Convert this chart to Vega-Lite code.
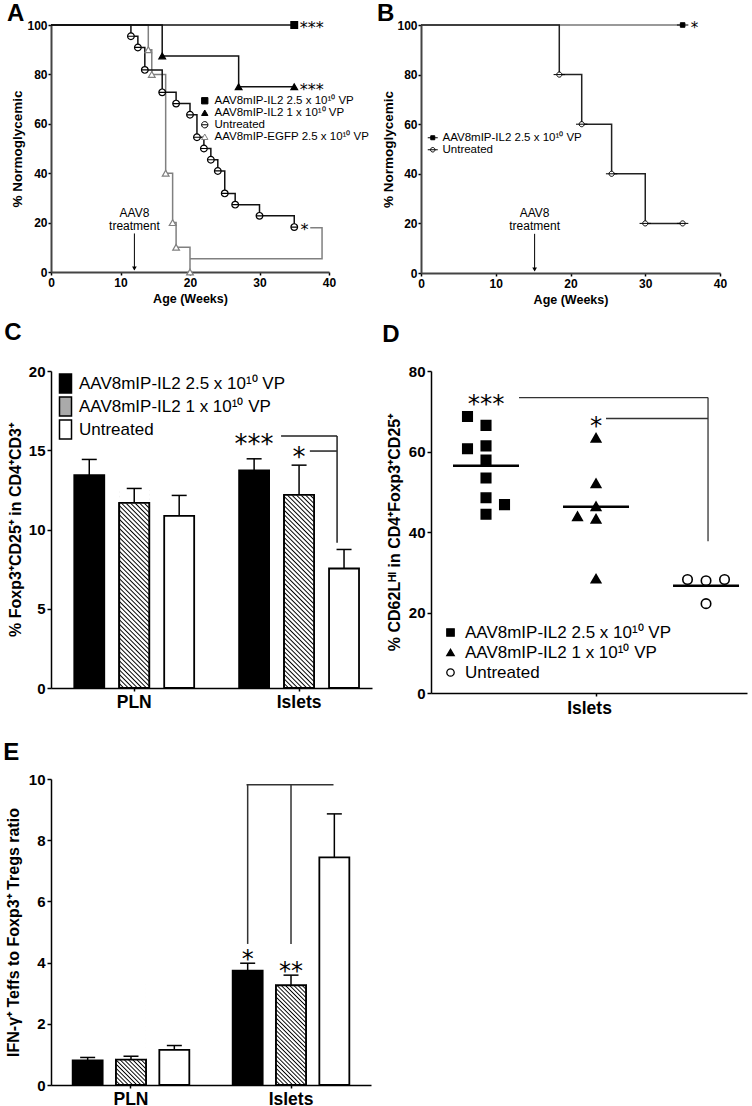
{
  "$schema": "https://vega.github.io/schema/vega-lite/v6.json",
  "background": "white",
  "padding": {"left": 3, "top": 2, "right": 2, "bottom": 2},
  "config": {
    "font": "Liberation Sans",
    "view": {"stroke": null},
    "axis": {"grid": false, "domainColor": "#000", "domainWidth": 1.5, "tickColor": "#000", "tickWidth": 1.5, "tickSize": 3, "labelColor": "#000", "labelFontWeight": "bold", "labelFont": "Liberation Sans", "titleColor": "#000", "titleFont": "Liberation Sans", "titleFontWeight": "bold", "labelPadding": 2, "labelFlush": false, "labelOverlap": false, "labelAngle": 0},
    "title": {"fontSize": 24, "fontWeight": "bold", "anchor": "start", "frame": "bounds", "color": "#000", "font": "Liberation Sans"},
    "legend": {"labelFont": "Liberation Sans", "labelColor": "#000", "padding": 0, "labelLimit": 400}
  },
  "datasets": {
    "km_a": [
      {"series": "AAV8mIP-EGFP 2.5 x 10¹⁰ VP", "week": 0, "pct": 100},
      {"series": "AAV8mIP-EGFP 2.5 x 10¹⁰ VP", "week": 14, "pct": 90},
      {"series": "AAV8mIP-EGFP 2.5 x 10¹⁰ VP", "week": 14.5, "pct": 80},
      {"series": "AAV8mIP-EGFP 2.5 x 10¹⁰ VP", "week": 16.5, "pct": 40},
      {"series": "AAV8mIP-EGFP 2.5 x 10¹⁰ VP", "week": 17.5, "pct": 20},
      {"series": "AAV8mIP-EGFP 2.5 x 10¹⁰ VP", "week": 18, "pct": 10},
      {"series": "AAV8mIP-EGFP 2.5 x 10¹⁰ VP", "week": 20, "pct": 0},
      {"series": "Untreated", "week": 0, "pct": 100},
      {"series": "Untreated", "week": 11.5, "pct": 95.45},
      {"series": "Untreated", "week": 12.5, "pct": 90.91},
      {"series": "Untreated", "week": 13.5, "pct": 81.82},
      {"series": "Untreated", "week": 16, "pct": 72.73},
      {"series": "Untreated", "week": 18, "pct": 68.18},
      {"series": "Untreated", "week": 20, "pct": 63.64},
      {"series": "Untreated", "week": 21, "pct": 54.55},
      {"series": "Untreated", "week": 22, "pct": 50},
      {"series": "Untreated", "week": 23, "pct": 45.45},
      {"series": "Untreated", "week": 24, "pct": 40.91},
      {"series": "Untreated", "week": 25, "pct": 31.82},
      {"series": "Untreated", "week": 26.5, "pct": 27.27},
      {"series": "Untreated", "week": 30, "pct": 22.73},
      {"series": "Untreated", "week": 35, "pct": 18.18},
      {"series": "AAV8mIP-IL2 1 x 10¹⁰ VP", "week": 0, "pct": 100},
      {"series": "AAV8mIP-IL2 1 x 10¹⁰ VP", "week": 16, "pct": 87.5},
      {"series": "AAV8mIP-IL2 1 x 10¹⁰ VP", "week": 27, "pct": 75},
      {"series": "AAV8mIP-IL2 1 x 10¹⁰ VP", "week": 35, "pct": 75},
      {"series": "AAV8mIP-IL2 2.5 x 10¹⁰ VP", "week": 0, "pct": 100},
      {"series": "AAV8mIP-IL2 2.5 x 10¹⁰ VP", "week": 35, "pct": 100}
    ],
    "km_b": [
      {"series": "AAV8mIP-IL2 2.5 x 10¹⁰ VP", "week": 0, "pct": 100},
      {"series": "AAV8mIP-IL2 2.5 x 10¹⁰ VP", "week": 35, "pct": 100},
      {"series": "Untreated", "week": 0, "pct": 100},
      {"series": "Untreated", "week": 18.5, "pct": 80},
      {"series": "Untreated", "week": 21.5, "pct": 60},
      {"series": "Untreated", "week": 25.5, "pct": 40},
      {"series": "Untreated", "week": 30, "pct": 20},
      {"series": "Untreated", "week": 35, "pct": 20}
    ],
    "c_bars": [
      {"tissue": "PLN", "grp": "AAV8mIP-IL2 2.5 x 10¹⁰ VP", "mean": 13.43, "upper": 14.42},
      {"tissue": "PLN", "grp": "AAV8mIP-IL2 1 x 10¹⁰ VP", "mean": 11.68, "upper": 12.59},
      {"tissue": "PLN", "grp": "Untreated", "mean": 10.86, "upper": 12.15},
      {"tissue": "Islets", "grp": "AAV8mIP-IL2 2.5 x 10¹⁰ VP", "mean": 13.73, "upper": 14.46},
      {"tissue": "Islets", "grp": "AAV8mIP-IL2 1 x 10¹⁰ VP", "mean": 12.19, "upper": 14.06},
      {"tissue": "Islets", "grp": "Untreated", "mean": 7.54, "upper": 8.74}
    ],
    "d_pts": [
      {"grp": "AAV8mIP-IL2 2.5 x 10¹⁰ VP", "slot": "L", "val": 68.7},
      {"grp": "AAV8mIP-IL2 2.5 x 10¹⁰ VP", "slot": "C", "val": 66.5},
      {"grp": "AAV8mIP-IL2 2.5 x 10¹⁰ VP", "slot": "L", "val": 60.7},
      {"grp": "AAV8mIP-IL2 2.5 x 10¹⁰ VP", "slot": "C", "val": 61.4},
      {"grp": "AAV8mIP-IL2 2.5 x 10¹⁰ VP", "slot": "C", "val": 57.9},
      {"grp": "AAV8mIP-IL2 2.5 x 10¹⁰ VP", "slot": "C", "val": 53.4},
      {"grp": "AAV8mIP-IL2 2.5 x 10¹⁰ VP", "slot": "C", "val": 48.5},
      {"grp": "AAV8mIP-IL2 2.5 x 10¹⁰ VP", "slot": "R", "val": 46.8},
      {"grp": "AAV8mIP-IL2 2.5 x 10¹⁰ VP", "slot": "C", "val": 44.4},
      {"grp": "AAV8mIP-IL2 1 x 10¹⁰ VP", "slot": "C", "val": 63.4},
      {"grp": "AAV8mIP-IL2 1 x 10¹⁰ VP", "slot": "C", "val": 52.1},
      {"grp": "AAV8mIP-IL2 1 x 10¹⁰ VP", "slot": "C", "val": 46.4},
      {"grp": "AAV8mIP-IL2 1 x 10¹⁰ VP", "slot": "L", "val": 43.9},
      {"grp": "AAV8mIP-IL2 1 x 10¹⁰ VP", "slot": "C", "val": 43.3},
      {"grp": "AAV8mIP-IL2 1 x 10¹⁰ VP", "slot": "C", "val": 28.4},
      {"grp": "Untreated", "slot": "L", "val": 28.2},
      {"grp": "Untreated", "slot": "C", "val": 27.9},
      {"grp": "Untreated", "slot": "R", "val": 28.2},
      {"grp": "Untreated", "slot": "C", "val": 22.2}
    ],
    "e_bars": [
      {"tissue": "PLN", "grp": "AAV8mIP-IL2 2.5 x 10¹⁰ VP", "mean": 0.8, "upper": 0.9},
      {"tissue": "PLN", "grp": "AAV8mIP-IL2 1 x 10¹⁰ VP", "mean": 0.83, "upper": 0.94},
      {"tissue": "PLN", "grp": "Untreated", "mean": 1.15, "upper": 1.29},
      {"tissue": "Islets", "grp": "AAV8mIP-IL2 2.5 x 10¹⁰ VP", "mean": 3.74, "upper": 3.98},
      {"tissue": "Islets", "grp": "AAV8mIP-IL2 1 x 10¹⁰ VP", "mean": 3.26, "upper": 3.59},
      {"tissue": "Islets", "grp": "Untreated", "mean": 7.44, "upper": 8.86}
    ]
  },
  "resolve": {"scale": {"xOffset": "independent", "fill": "independent", "shape": "independent", "stroke": "independent"}, "legend": {"fill": "independent", "shape": "independent", "stroke": "independent"}},
  "vconcat": [
    {
      "resolve": {"scale": {"xOffset": "independent", "fill": "independent", "shape": "independent", "stroke": "independent"}, "legend": {"fill": "independent", "shape": "independent", "stroke": "independent"}},
      "vconcat": [
        {
          "resolve": {"scale": {"xOffset": "independent", "fill": "independent", "shape": "independent", "stroke": "independent"}, "legend": {"fill": "independent", "shape": "independent", "stroke": "independent"}},
          "hconcat": [
            {
              "width": 278, "height": 247,
              "title": {"text": "A", "dx": -4, "offset": -7},
              "layer": [
                {
                  "data": {"name": "km_a"},
                  "mark": {"type": "line", "interpolate": "step-after", "strokeWidth": 1.5},
                  "encoding": {
                    "x": {"field": "week", "type": "quantitative", "scale": {"domain": [0, 40], "nice": false}, "axis": {"values": [0, 10, 20, 30, 40], "title": "Age (Weeks)", "titleFontSize": 12.5, "labelFontSize": 12, "titlePadding": 4, "domainColor": "#444", "domainWidth": 2}},
                    "y": {"field": "pct", "type": "quantitative", "scale": {"domain": [0, 100], "nice": false}, "axis": {"values": [0, 20, 40, 60, 80, 100], "title": "% Normoglycemic", "titleFontSize": 13.5, "labelFontSize": 12, "labelPadding": 1, "titlePadding": 2, "domainColor": "#444", "domainWidth": 2}},
                    "detail": {"field": "series", "type": "nominal"},
                    "stroke": {"condition": {"test": "datum.series === 'AAV8mIP-EGFP 2.5 x 10¹⁰ VP'", "value": "#808080"}, "value": "#111"}
                  }
                },
                {
                  "data": {"name": "km_a"},
                  "transform": [{"filter": "datum.week > 0"}],
                  "mark": {"type": "point", "opacity": 1, "strokeWidth": 1.2, "size": 45},
                  "encoding": {
                    "x": {"field": "week", "type": "quantitative"},
                    "y": {"field": "pct", "type": "quantitative"},
                    "shape": {"field": "series", "type": "nominal", "scale": {"domain": ["AAV8mIP-IL2 2.5 x 10¹⁰ VP", "AAV8mIP-IL2 1 x 10¹⁰ VP", "Untreated", "AAV8mIP-EGFP 2.5 x 10¹⁰ VP"], "range": ["square", "triangle-up", "M-1,0H1M1,0A1,1 0 1,1 -1,0A1,1 0 1,1 1,0", "triangle-up"]}, "legend": {"orient": "none", "legendX": 148, "legendY": 70, "title": null, "labelFontSize": 11.5, "symbolSize": 40, "symbolStrokeWidth": 1, "rowPadding": -1.5, "labelOffset": 4, "padding": 0}},
                    "fill": {"field": "series", "type": "nominal", "scale": {"domain": ["AAV8mIP-IL2 2.5 x 10¹⁰ VP", "AAV8mIP-IL2 1 x 10¹⁰ VP", "Untreated", "AAV8mIP-EGFP 2.5 x 10¹⁰ VP"], "range": ["#000", "#000", "#fff", "#fff"]}, "legend": {"orient": "none", "legendX": 148, "legendY": 70, "title": null, "labelFontSize": 11.5, "symbolSize": 40, "symbolStrokeWidth": 1, "rowPadding": -1.5, "labelOffset": 4, "padding": 0}},
                    "stroke": {"field": "series", "type": "nominal", "scale": {"domain": ["AAV8mIP-IL2 2.5 x 10¹⁰ VP", "AAV8mIP-IL2 1 x 10¹⁰ VP", "Untreated", "AAV8mIP-EGFP 2.5 x 10¹⁰ VP"], "range": ["#000", "#000", "#000", "#808080"]}, "legend": {"orient": "none", "legendX": 148, "legendY": 70, "title": null, "labelFontSize": 11.5, "symbolSize": 40, "symbolStrokeWidth": 1, "rowPadding": -1.5, "labelOffset": 4, "padding": 0}}
                  }
                },
                {
                  "data": {"values": [{"week": 37.3, "pct": 17.9, "o": 1}, {"week": 39, "pct": 17.9, "o": 2}, {"week": 39, "pct": 5.4, "o": 3}, {"week": 20, "pct": 5.4, "o": 4}]},
                  "mark": {"type": "line", "stroke": "#808080", "strokeWidth": 1.5},
                  "encoding": {"x": {"field": "week", "type": "quantitative"}, "y": {"field": "pct", "type": "quantitative"}, "order": {"field": "o", "type": "quantitative"}}
                },
                {
                  "data": {"values": [{"week": 35.8, "pct": 100, "t": "***"}, {"week": 35.8, "pct": 75, "t": "***"}, {"week": 35.9, "pct": 18.2, "t": "*"}]},
                  "mark": {"type": "text", "font": "DejaVu Sans", "fontSize": 16, "align": "left", "baseline": "alphabetic", "dy": 8, "color": "#000", "fill": "#000"},
                  "encoding": {"x": {"field": "week", "type": "quantitative"}, "y": {"field": "pct", "type": "quantitative"}, "text": {"field": "t"}}
                },
                {
                  "data": {"values": [{"week": 12, "pct": 15.6, "pct2": 1}]},
                  "mark": {"type": "rule", "color": "#000", "strokeWidth": 1},
                  "encoding": {"x": {"field": "week", "type": "quantitative"}, "y": {"field": "pct", "type": "quantitative"}, "y2": {"field": "pct2"}}
                },
                {
                  "data": {"values": [{"week": 12, "pct": 1.4}]},
                  "mark": {"type": "point", "shape": "triangle-down", "size": 22, "filled": true, "color": "#000", "opacity": 1},
                  "encoding": {"x": {"field": "week", "type": "quantitative"}, "y": {"field": "pct", "type": "quantitative"}}
                },
                {
                  "data": {"values": [{"week": 12, "pct": 22.3, "t": "AAV8"}, {"week": 12, "pct": 16.9, "t": "treatment"}]},
                  "mark": {"type": "text", "fontSize": 12, "align": "center", "baseline": "alphabetic", "color": "#000"},
                  "encoding": {"x": {"field": "week", "type": "quantitative"}, "y": {"field": "pct", "type": "quantitative"}, "text": {"field": "t"}}
                }
              ]
            },
            {
              "width": 299, "height": 248,
              "title": {"text": "B", "dx": -5, "offset": -7},
              "layer": [
                {
                  "data": {"name": "km_b"},
                  "mark": {"type": "line", "interpolate": "step-after", "strokeWidth": 1.5},
                  "encoding": {
                    "x": {"field": "week", "type": "quantitative", "scale": {"domain": [0, 40], "nice": false}, "axis": {"values": [0, 10, 20, 30, 40], "title": "Age (Weeks)", "titleFontSize": 12.5, "labelFontSize": 12, "titlePadding": 4, "domainColor": "#444", "domainWidth": 2}},
                    "y": {"field": "pct", "type": "quantitative", "scale": {"domain": [0, 100], "nice": false}, "axis": {"values": [0, 20, 40, 60, 80, 100], "title": "% Normoglycemic", "titleFontSize": 13.5, "labelFontSize": 12, "labelPadding": 1, "titlePadding": 1, "domainColor": "#444", "domainWidth": 2}},
                    "detail": {"field": "series", "type": "nominal"},
                    "stroke": {"condition": {"test": "datum.series === 'Untreated'", "value": "#222"}, "value": "#777"}
                  }
                },
                {
                  "data": {"name": "km_b"},
                  "transform": [{"filter": "datum.week > 0"}],
                  "mark": {"type": "point", "opacity": 1, "strokeWidth": 1, "size": 130},
                  "encoding": {
                    "x": {"field": "week", "type": "quantitative"},
                    "y": {"field": "pct", "type": "quantitative"},
                    "shape": {"field": "series", "type": "nominal", "scale": {"domain": ["AAV8mIP-IL2 2.5 x 10¹⁰ VP", "Untreated"], "range": ["M-1,0H1M-0.4,-0.4H0.4V0.4H-0.4Z", "M-1,0H-0.45M0.45,0H1M0.45,0A0.45,0.45 0 1,1 -0.45,0A0.45,0.45 0 1,1 0.45,0M-0.45,0H0.45"]}, "legend": {"orient": "none", "legendX": 6, "legendY": 107, "title": null, "labelFontSize": 11.5, "symbolSize": 100, "symbolStrokeWidth": 1, "rowPadding": -2, "labelOffset": 4, "padding": 0}},
                    "fill": {"field": "series", "type": "nominal", "scale": {"domain": ["AAV8mIP-IL2 2.5 x 10¹⁰ VP", "Untreated"], "range": ["#000", "#fff"]}, "legend": {"orient": "none", "legendX": 6, "legendY": 107, "title": null, "labelFontSize": 11.5, "symbolSize": 100, "symbolStrokeWidth": 1, "rowPadding": -2, "labelOffset": 4, "padding": 0}},
                    "stroke": {"field": "series", "type": "nominal", "scale": {"domain": ["AAV8mIP-IL2 2.5 x 10¹⁰ VP", "Untreated"], "range": ["#000", "#000"]}, "legend": {"orient": "none", "legendX": 6, "legendY": 107, "title": null, "labelFontSize": 11.5, "symbolSize": 100, "symbolStrokeWidth": 1, "rowPadding": -2, "labelOffset": 4, "padding": 0}}
                  }
                },
                {
                  "data": {"values": [{"week": 36.1, "pct": 100, "t": "*"}]},
                  "mark": {"type": "text", "font": "DejaVu Sans", "fontSize": 15, "align": "left", "baseline": "alphabetic", "dy": 7.5, "color": "#000", "fill": "#000"},
                  "encoding": {"x": {"field": "week", "type": "quantitative"}, "y": {"field": "pct", "type": "quantitative"}, "text": {"field": "t"}}
                },
                {
                  "data": {"values": [{"week": 15.2, "pct": 15.8, "pct2": 1}]},
                  "mark": {"type": "rule", "color": "#000", "strokeWidth": 1},
                  "encoding": {"x": {"field": "week", "type": "quantitative"}, "y": {"field": "pct", "type": "quantitative"}, "y2": {"field": "pct2"}}
                },
                {
                  "data": {"values": [{"week": 15.2, "pct": 1.4}]},
                  "mark": {"type": "point", "shape": "triangle-down", "size": 22, "filled": true, "color": "#000", "opacity": 1},
                  "encoding": {"x": {"field": "week", "type": "quantitative"}, "y": {"field": "pct", "type": "quantitative"}}
                },
                {
                  "data": {"values": [{"week": 15.2, "pct": 22.6, "t": "AAV8"}, {"week": 15.2, "pct": 17.2, "t": "treatment"}]},
                  "mark": {"type": "text", "fontSize": 12, "align": "center", "baseline": "alphabetic", "color": "#000"},
                  "encoding": {"x": {"field": "week", "type": "quantitative"}, "y": {"field": "pct", "type": "quantitative"}, "text": {"field": "t"}}
                }
              ]
            }
          ],
          "bounds": "flush",
          "spacing": 92
        },
        {
          "resolve": {"scale": {"xOffset": "independent", "fill": "independent", "shape": "independent", "stroke": "independent"}, "legend": {"fill": "independent", "shape": "independent", "stroke": "independent"}},
          "hconcat": [
            {
              "width": 321, "height": 317,
              "title": {"text": "C", "dx": -3, "offset": 19},
              "layer": [
                {
                  "data": {"name": "c_bars"},
                  "mark": {"type": "bar", "strokeWidth": 1.8},
                  "encoding": {
                    "x": {"field": "tissue", "type": "nominal", "scale": {"type": "band", "domain": ["PLN", "Islets"], "paddingInner": 0.2727, "paddingOuter": 0.11, "align": 0.642}, "axis": {"title": null, "labelFontSize": 17.5, "labelPadding": 2, "tickSize": 3, "bandPosition": 0.5}},
                    "xOffset": {"field": "grp", "type": "nominal", "scale": {"domain": ["AAV8mIP-IL2 2.5 x 10¹⁰ VP", "AAV8mIP-IL2 1 x 10¹⁰ VP", "Untreated"], "paddingInner": 0.3333, "paddingOuter": 0}},
                    "y": {"field": "mean", "type": "quantitative", "scale": {"domain": [0, 20], "nice": false}, "axis": {"values": [0, 5, 10, 15, 20], "title": "% Foxp3⁺CD25⁺ in CD4⁺CD3⁺", "titleFontSize": 16, "labelFontSize": 15, "titlePadding": 5, "tickSize": 4}},
                    "fill": {"field": "grp", "type": "nominal", "scale": {"domain": ["AAV8mIP-IL2 2.5 x 10¹⁰ VP", "AAV8mIP-IL2 1 x 10¹⁰ VP", "Untreated"], "range": ["#000", "#aaa", "#fff"]}, "legend": {"orient": "none", "legendX": 4, "legendY": 2, "title": null, "labelFontSize": 17, "symbolType": "M-0.632,-1H0.632V1H-0.632Z", "symbolSize": 361, "symbolStrokeWidth": 1.5, "rowPadding": -2, "labelOffset": 3, "padding": 0}},
                    "stroke": {"field": "grp", "type": "nominal", "scale": {"domain": ["AAV8mIP-IL2 2.5 x 10¹⁰ VP", "AAV8mIP-IL2 1 x 10¹⁰ VP", "Untreated"], "range": ["#000", "#000", "#000"]}, "legend": {"orient": "none", "legendX": 4, "legendY": 2, "title": null, "labelFontSize": 17, "symbolType": "M-0.632,-1H0.632V1H-0.632Z", "symbolSize": 361, "symbolStrokeWidth": 1.5, "rowPadding": -2, "labelOffset": 3, "padding": 0}}
                  }
                },
                {
                  "data": {"name": "c_bars"},
                  "transform": [{"filter": "datum.grp === 'AAV8mIP-IL2 1 x 10¹⁰ VP'"}],
                  "mark": {"type": "bar", "strokeWidth": 0, "fill": {"gradient": "linear", "x1": 0, "y1": 1, "x2": 0.1705, "y2": -0.1256, "stops": [
                    {"offset": 0, "color": "#000"}, {"offset": 0.006, "color": "#fff"}, {"offset": 0.014, "color": "#fff"},
                    {"offset": 0.02, "color": "#000"}, {"offset": 0.026, "color": "#fff"}, {"offset": 0.034, "color": "#fff"},
                    {"offset": 0.04, "color": "#000"}, {"offset": 0.046, "color": "#fff"}, {"offset": 0.054, "color": "#fff"},
                    {"offset": 0.06, "color": "#000"}, {"offset": 0.066, "color": "#fff"}, {"offset": 0.074, "color": "#fff"},
                    {"offset": 0.08, "color": "#000"}, {"offset": 0.086, "color": "#fff"}, {"offset": 0.094, "color": "#fff"},
                    {"offset": 0.1, "color": "#000"}, {"offset": 0.106, "color": "#fff"}, {"offset": 0.114, "color": "#fff"},
                    {"offset": 0.12, "color": "#000"}, {"offset": 0.126, "color": "#fff"}, {"offset": 0.134, "color": "#fff"},
                    {"offset": 0.14, "color": "#000"}, {"offset": 0.146, "color": "#fff"}, {"offset": 0.154, "color": "#fff"},
                    {"offset": 0.16, "color": "#000"}, {"offset": 0.166, "color": "#fff"}, {"offset": 0.174, "color": "#fff"},
                    {"offset": 0.18, "color": "#000"}, {"offset": 0.186, "color": "#fff"}, {"offset": 0.194, "color": "#fff"},
                    {"offset": 0.2, "color": "#000"}, {"offset": 0.206, "color": "#fff"}, {"offset": 0.214, "color": "#fff"},
                    {"offset": 0.22, "color": "#000"}, {"offset": 0.226, "color": "#fff"}, {"offset": 0.234, "color": "#fff"},
                    {"offset": 0.24, "color": "#000"}, {"offset": 0.246, "color": "#fff"}, {"offset": 0.254, "color": "#fff"},
                    {"offset": 0.26, "color": "#000"}, {"offset": 0.266, "color": "#fff"}, {"offset": 0.274, "color": "#fff"},
                    {"offset": 0.28, "color": "#000"}, {"offset": 0.286, "color": "#fff"}, {"offset": 0.294, "color": "#fff"},
                    {"offset": 0.3, "color": "#000"}, {"offset": 0.306, "color": "#fff"}, {"offset": 0.314, "color": "#fff"},
                    {"offset": 0.32, "color": "#000"}, {"offset": 0.326, "color": "#fff"}, {"offset": 0.334, "color": "#fff"},
                    {"offset": 0.34, "color": "#000"}, {"offset": 0.346, "color": "#fff"}, {"offset": 0.354, "color": "#fff"},
                    {"offset": 0.36, "color": "#000"}, {"offset": 0.366, "color": "#fff"}, {"offset": 0.374, "color": "#fff"},
                    {"offset": 0.38, "color": "#000"}, {"offset": 0.386, "color": "#fff"}, {"offset": 0.394, "color": "#fff"},
                    {"offset": 0.4, "color": "#000"}, {"offset": 0.406, "color": "#fff"}, {"offset": 0.414, "color": "#fff"},
                    {"offset": 0.42, "color": "#000"}, {"offset": 0.426, "color": "#fff"}, {"offset": 0.434, "color": "#fff"},
                    {"offset": 0.44, "color": "#000"}, {"offset": 0.446, "color": "#fff"}, {"offset": 0.454, "color": "#fff"},
                    {"offset": 0.46, "color": "#000"}, {"offset": 0.466, "color": "#fff"}, {"offset": 0.474, "color": "#fff"},
                    {"offset": 0.48, "color": "#000"}, {"offset": 0.486, "color": "#fff"}, {"offset": 0.494, "color": "#fff"},
                    {"offset": 0.5, "color": "#000"}, {"offset": 0.506, "color": "#fff"}, {"offset": 0.514, "color": "#fff"},
                    {"offset": 0.52, "color": "#000"}, {"offset": 0.526, "color": "#fff"}, {"offset": 0.534, "color": "#fff"},
                    {"offset": 0.54, "color": "#000"}, {"offset": 0.546, "color": "#fff"}, {"offset": 0.554, "color": "#fff"},
                    {"offset": 0.56, "color": "#000"}, {"offset": 0.566, "color": "#fff"}, {"offset": 0.574, "color": "#fff"},
                    {"offset": 0.58, "color": "#000"}, {"offset": 0.586, "color": "#fff"}, {"offset": 0.594, "color": "#fff"},
                    {"offset": 0.6, "color": "#000"}, {"offset": 0.606, "color": "#fff"}, {"offset": 0.614, "color": "#fff"},
                    {"offset": 0.62, "color": "#000"}, {"offset": 0.626, "color": "#fff"}, {"offset": 0.634, "color": "#fff"},
                    {"offset": 0.64, "color": "#000"}, {"offset": 0.646, "color": "#fff"}, {"offset": 0.654, "color": "#fff"},
                    {"offset": 0.66, "color": "#000"}, {"offset": 0.666, "color": "#fff"}, {"offset": 0.674, "color": "#fff"},
                    {"offset": 0.68, "color": "#000"}, {"offset": 0.686, "color": "#fff"}, {"offset": 0.694, "color": "#fff"},
                    {"offset": 0.7, "color": "#000"}, {"offset": 0.706, "color": "#fff"}, {"offset": 0.714, "color": "#fff"},
                    {"offset": 0.72, "color": "#000"}, {"offset": 0.726, "color": "#fff"}, {"offset": 0.734, "color": "#fff"},
                    {"offset": 0.74, "color": "#000"}, {"offset": 0.746, "color": "#fff"}, {"offset": 0.754, "color": "#fff"},
                    {"offset": 0.76, "color": "#000"}, {"offset": 0.766, "color": "#fff"}, {"offset": 0.774, "color": "#fff"},
                    {"offset": 0.78, "color": "#000"}, {"offset": 0.786, "color": "#fff"}, {"offset": 0.794, "color": "#fff"},
                    {"offset": 0.8, "color": "#000"}, {"offset": 0.806, "color": "#fff"}, {"offset": 0.814, "color": "#fff"},
                    {"offset": 0.82, "color": "#000"}, {"offset": 0.826, "color": "#fff"}, {"offset": 0.834, "color": "#fff"},
                    {"offset": 0.84, "color": "#000"}, {"offset": 0.846, "color": "#fff"}, {"offset": 0.854, "color": "#fff"},
                    {"offset": 0.86, "color": "#000"}, {"offset": 0.866, "color": "#fff"}, {"offset": 0.874, "color": "#fff"},
                    {"offset": 0.88, "color": "#000"}, {"offset": 0.886, "color": "#fff"}, {"offset": 0.894, "color": "#fff"},
                    {"offset": 0.9, "color": "#000"}, {"offset": 0.906, "color": "#fff"}, {"offset": 0.914, "color": "#fff"},
                    {"offset": 0.92, "color": "#000"}, {"offset": 0.926, "color": "#fff"}, {"offset": 0.934, "color": "#fff"},
                    {"offset": 0.94, "color": "#000"}, {"offset": 0.946, "color": "#fff"}, {"offset": 0.954, "color": "#fff"},
                    {"offset": 0.96, "color": "#000"}, {"offset": 0.966, "color": "#fff"}, {"offset": 0.974, "color": "#fff"},
                    {"offset": 0.98, "color": "#000"}, {"offset": 0.986, "color": "#fff"}, {"offset": 0.994, "color": "#fff"},
                    {"offset": 1, "color": "#000"}
                  ]}},
                  "encoding": {"x": {"field": "tissue", "type": "nominal"}, "xOffset": {"field": "grp", "type": "nominal"}, "y": {"datum": 12.5, "type": "quantitative"}, "y2": {"datum": 0}}
                },
                {
                  "data": {"name": "c_bars"},
                  "transform": [{"filter": "datum.grp === 'AAV8mIP-IL2 1 x 10¹⁰ VP'"}],
                  "mark": {"type": "bar", "fill": "#fff", "stroke": "#fff", "strokeWidth": 1},
                  "encoding": {"x": {"field": "tissue", "type": "nominal"}, "xOffset": {"field": "grp", "type": "nominal"}, "y": {"field": "mean", "type": "quantitative"}, "y2": {"datum": 12.7}}
                },
                {
                  "data": {"name": "c_bars"},
                  "transform": [{"filter": "datum.grp === 'AAV8mIP-IL2 1 x 10¹⁰ VP'"}],
                  "mark": {"type": "bar", "fill": "transparent", "stroke": "#000", "strokeWidth": 1.8},
                  "encoding": {"x": {"field": "tissue", "type": "nominal"}, "xOffset": {"field": "grp", "type": "nominal"}, "y": {"field": "mean", "type": "quantitative"}}
                },
                {
                  "data": {"name": "c_bars"},
                  "mark": {"type": "rule", "color": "#000", "strokeWidth": 1.5},
                  "encoding": {"x": {"field": "tissue", "type": "nominal"}, "xOffset": {"field": "grp", "type": "nominal"}, "y": {"field": "mean", "type": "quantitative"}, "y2": {"field": "upper"}}
                },
                {
                  "data": {"name": "c_bars"},
                  "mark": {"type": "tick", "orient": "horizontal", "size": 15, "thickness": 1.5, "color": "#000", "opacity": 1},
                  "encoding": {"x": {"field": "tissue", "type": "nominal"}, "xOffset": {"field": "grp", "type": "nominal"}, "y": {"field": "upper", "type": "quantitative"}}
                },
                {
                  "data": {"values": [{"tissue": "Islets", "grp": "AAV8mIP-IL2 2.5 x 10¹⁰ VP", "mean": 15.68, "t": "***"}, {"tissue": "Islets", "grp": "AAV8mIP-IL2 1 x 10¹⁰ VP", "mean": 14.84, "t": "*"}]},
                  "mark": {"type": "text", "font": "DejaVu Sans", "fontSize": 26, "align": "center", "baseline": "alphabetic", "dy": 13.5, "color": "#000", "fill": "#000"},
                  "encoding": {"x": {"field": "tissue", "type": "nominal"}, "xOffset": {"field": "grp", "type": "nominal"}, "y": {"field": "mean", "type": "quantitative"}, "text": {"field": "t"}}
                },
                {
                  "data": {"values": [{"tissue": "Islets", "mean": 15.9}]},
                  "mark": {"type": "tick", "orient": "horizontal", "size": 56, "thickness": 1.5, "xOffset": 10, "color": "#222", "opacity": 1},
                  "encoding": {"x": {"field": "tissue", "type": "nominal"}, "y": {"field": "mean", "type": "quantitative"}}
                },
                {
                  "data": {"values": [{"tissue": "Islets", "mean": 14.95}]},
                  "mark": {"type": "tick", "orient": "horizontal", "size": 27, "thickness": 1.5, "xOffset": 24.3, "color": "#222", "opacity": 1},
                  "encoding": {"x": {"field": "tissue", "type": "nominal"}, "y": {"field": "mean", "type": "quantitative"}}
                },
                {
                  "data": {"values": [{"tissue": "Islets", "mean": 15.9, "mean2": 9.16}]},
                  "mark": {"type": "rule", "xOffset": 38, "strokeWidth": 1.5, "color": "#222"},
                  "encoding": {"x": {"field": "tissue", "type": "nominal"}, "y": {"field": "mean", "type": "quantitative"}, "y2": {"field": "mean2"}}
                }
              ]
            },
            {
              "width": 316, "height": 322,
              "title": {"text": "D", "dx": -4, "offset": 17},
              "layer": [
                {
                  "data": {"name": "d_pts"},
                  "mark": {"type": "point", "opacity": 1, "strokeWidth": 1.6, "size": 90},
                  "encoding": {
                    "x": {"field": "grp", "type": "nominal", "scale": {"type": "band", "domain": ["AAV8mIP-IL2 2.5 x 10¹⁰ VP", "AAV8mIP-IL2 1 x 10¹⁰ VP", "Untreated"], "paddingInner": 0.6636, "paddingOuter": 0.268, "align": 0.619}, "axis": {"values": ["AAV8mIP-IL2 1 x 10¹⁰ VP"], "labels": false, "title": "Islets", "titleFontSize": 17.5, "titlePadding": 3, "tickSize": 3, "bandPosition": 0.5}},
                    "xOffset": {"field": "slot", "type": "nominal", "scale": {"domain": ["L", "C", "R"], "paddingInner": 0, "paddingOuter": 0}},
                    "y": {"field": "val", "type": "quantitative", "scale": {"domain": [0, 80], "nice": false}, "axis": {"values": [0, 20, 40, 60, 80], "title": "% CD62Lᴴᴵ in CD4⁺Foxp3⁺CD25⁺", "titleFontSize": 16, "labelFontSize": 15, "titlePadding": 6, "tickSize": 4}},
                    "shape": {"field": "grp", "type": "nominal", "scale": {"domain": ["AAV8mIP-IL2 2.5 x 10¹⁰ VP", "AAV8mIP-IL2 1 x 10¹⁰ VP", "Untreated"], "range": ["square", "triangle-up", "circle"]}, "legend": {"orient": "none", "legendX": 11, "legendY": 253, "title": null, "labelFontSize": 17, "symbolSize": 55, "symbolStrokeWidth": 1.3, "rowPadding": 2, "labelOffset": 6, "padding": 0}},
                    "fill": {"field": "grp", "type": "nominal", "scale": {"domain": ["AAV8mIP-IL2 2.5 x 10¹⁰ VP", "AAV8mIP-IL2 1 x 10¹⁰ VP", "Untreated"], "range": ["#000", "#000", "#fff"]}, "legend": {"orient": "none", "legendX": 11, "legendY": 253, "title": null, "labelFontSize": 17, "symbolSize": 55, "symbolStrokeWidth": 1.3, "rowPadding": 2, "labelOffset": 6, "padding": 0}},
                    "stroke": {"field": "grp", "type": "nominal", "scale": {"domain": ["AAV8mIP-IL2 2.5 x 10¹⁰ VP", "AAV8mIP-IL2 1 x 10¹⁰ VP", "Untreated"], "range": ["#000", "#000", "#000"]}, "legend": {"orient": "none", "legendX": 11, "legendY": 253, "title": null, "labelFontSize": 17, "symbolSize": 55, "symbolStrokeWidth": 1.3, "rowPadding": 2, "labelOffset": 6, "padding": 0}}
                  }
                },
                {
                  "data": {"name": "d_pts"},
                  "mark": {"type": "tick", "orient": "horizontal", "size": 66, "thickness": 2.5, "color": "#000", "opacity": 1},
                  "encoding": {"x": {"field": "grp", "type": "nominal"}, "y": {"aggregate": "mean", "field": "val", "type": "quantitative"}}
                },
                {
                  "data": {"values": [{"grp": "AAV8mIP-IL2 2.5 x 10¹⁰ VP", "val": 73, "t": "***"}, {"grp": "AAV8mIP-IL2 1 x 10¹⁰ VP", "val": 67.6, "t": "*"}]},
                  "mark": {"type": "text", "font": "DejaVu Sans", "fontSize": 24.5, "align": "center", "baseline": "alphabetic", "dy": 12.7, "color": "#000", "fill": "#000"},
                  "encoding": {"x": {"field": "grp", "type": "nominal"}, "y": {"field": "val", "type": "quantitative"}, "text": {"field": "t"}}
                },
                {
                  "data": {"values": [{"grp": "AAV8mIP-IL2 1 x 10¹⁰ VP", "val": 73.4}]},
                  "mark": {"type": "tick", "orient": "horizontal", "size": 189, "thickness": 1.3, "xOffset": 17.5, "color": "#333", "opacity": 1},
                  "encoding": {"x": {"field": "grp", "type": "nominal"}, "y": {"field": "val", "type": "quantitative"}}
                },
                {
                  "data": {"values": [{"grp": "AAV8mIP-IL2 1 x 10¹⁰ VP", "val": 68.2}]},
                  "mark": {"type": "tick", "orient": "horizontal", "size": 102, "thickness": 1.3, "xOffset": 61, "color": "#333", "opacity": 1},
                  "encoding": {"x": {"field": "grp", "type": "nominal"}, "y": {"field": "val", "type": "quantitative"}}
                },
                {
                  "data": {"values": [{"grp": "Untreated", "val": 73.4, "val2": 37.7}]},
                  "mark": {"type": "rule", "xOffset": 2, "strokeWidth": 1.3, "color": "#333"},
                  "encoding": {"x": {"field": "grp", "type": "nominal"}, "y": {"field": "val", "type": "quantitative"}, "y2": {"field": "val2"}}
                }
              ]
            }
          ],
          "bounds": "flush",
          "spacing": 59
        }
      ],
      "spacing": 15
    },
    {
      "width": 320, "height": 306,
      "title": {"text": "E", "dx": -2, "offset": 7},
      "layer": [
        {
          "data": {"name": "e_bars"},
          "mark": {"type": "bar", "stroke": "#000", "strokeWidth": 1.8},
          "encoding": {
            "x": {"field": "tissue", "type": "nominal", "scale": {"type": "band", "domain": ["PLN", "Islets"], "paddingInner": 0.271, "paddingOuter": 0.1354, "align": 0.5}, "axis": {"title": null, "labelFontSize": 17.5, "labelPadding": 2, "tickSize": 3, "bandPosition": 0.5}},
            "xOffset": {"field": "grp", "type": "nominal", "scale": {"domain": ["AAV8mIP-IL2 2.5 x 10¹⁰ VP", "AAV8mIP-IL2 1 x 10¹⁰ VP", "Untreated"], "paddingInner": 0.308, "paddingOuter": 0}},
            "y": {"field": "mean", "type": "quantitative", "scale": {"domain": [0, 10], "nice": false}, "axis": {"values": [0, 2, 4, 6, 8, 10], "title": "IFN-γ⁺ Teffs to Foxp3⁺ Tregs ratio", "titleFontSize": 16, "labelFontSize": 15, "titlePadding": 7, "tickSize": 4}},
            "fill": {"field": "grp", "type": "nominal", "scale": {"domain": ["AAV8mIP-IL2 2.5 x 10¹⁰ VP", "AAV8mIP-IL2 1 x 10¹⁰ VP", "Untreated"], "range": ["#000", "#fff", "#fff"]}, "legend": null}
          }
        },
        {
          "data": {"name": "e_bars"},
          "transform": [{"filter": "datum.grp === 'AAV8mIP-IL2 1 x 10¹⁰ VP'"}],
          "mark": {"type": "bar", "strokeWidth": 0, "fill": {"gradient": "linear", "x1": 0, "y1": 1, "x2": 0.354, "y2": -0.1919, "stops": [
            {"offset": 0, "color": "#000"}, {"offset": 0.01, "color": "#fff"}, {"offset": 0.022, "color": "#fff"},
            {"offset": 0.032, "color": "#000"}, {"offset": 0.042, "color": "#fff"}, {"offset": 0.054, "color": "#fff"},
            {"offset": 0.064, "color": "#000"}, {"offset": 0.074, "color": "#fff"}, {"offset": 0.086, "color": "#fff"},
            {"offset": 0.096, "color": "#000"}, {"offset": 0.106, "color": "#fff"}, {"offset": 0.118, "color": "#fff"},
            {"offset": 0.128, "color": "#000"}, {"offset": 0.138, "color": "#fff"}, {"offset": 0.15, "color": "#fff"},
            {"offset": 0.16, "color": "#000"}, {"offset": 0.17, "color": "#fff"}, {"offset": 0.182, "color": "#fff"},
            {"offset": 0.192, "color": "#000"}, {"offset": 0.202, "color": "#fff"}, {"offset": 0.214, "color": "#fff"},
            {"offset": 0.224, "color": "#000"}, {"offset": 0.234, "color": "#fff"}, {"offset": 0.246, "color": "#fff"},
            {"offset": 0.256, "color": "#000"}, {"offset": 0.266, "color": "#fff"}, {"offset": 0.278, "color": "#fff"},
            {"offset": 0.288, "color": "#000"}, {"offset": 0.298, "color": "#fff"}, {"offset": 0.31, "color": "#fff"},
            {"offset": 0.32, "color": "#000"}, {"offset": 0.33, "color": "#fff"}, {"offset": 0.342, "color": "#fff"},
            {"offset": 0.352, "color": "#000"}, {"offset": 0.362, "color": "#fff"}, {"offset": 0.374, "color": "#fff"},
            {"offset": 0.384, "color": "#000"}, {"offset": 0.394, "color": "#fff"}, {"offset": 0.406, "color": "#fff"},
            {"offset": 0.416, "color": "#000"}, {"offset": 0.426, "color": "#fff"}, {"offset": 0.438, "color": "#fff"},
            {"offset": 0.448, "color": "#000"}, {"offset": 0.458, "color": "#fff"}, {"offset": 0.47, "color": "#fff"},
            {"offset": 0.48, "color": "#000"}, {"offset": 0.49, "color": "#fff"}, {"offset": 0.502, "color": "#fff"},
            {"offset": 0.512, "color": "#000"}, {"offset": 0.522, "color": "#fff"}, {"offset": 0.534, "color": "#fff"},
            {"offset": 0.544, "color": "#000"}, {"offset": 0.554, "color": "#fff"}, {"offset": 0.566, "color": "#fff"},
            {"offset": 0.576, "color": "#000"}, {"offset": 0.586, "color": "#fff"}, {"offset": 0.598, "color": "#fff"},
            {"offset": 0.608, "color": "#000"}, {"offset": 0.618, "color": "#fff"}, {"offset": 0.63, "color": "#fff"},
            {"offset": 0.64, "color": "#000"}, {"offset": 0.65, "color": "#fff"}, {"offset": 0.662, "color": "#fff"},
            {"offset": 0.672, "color": "#000"}, {"offset": 0.682, "color": "#fff"}, {"offset": 0.694, "color": "#fff"},
            {"offset": 0.704, "color": "#000"}, {"offset": 0.714, "color": "#fff"}, {"offset": 0.726, "color": "#fff"},
            {"offset": 0.736, "color": "#000"}, {"offset": 0.746, "color": "#fff"}, {"offset": 0.758, "color": "#fff"},
            {"offset": 0.768, "color": "#000"}, {"offset": 0.778, "color": "#fff"}, {"offset": 0.79, "color": "#fff"},
            {"offset": 0.8, "color": "#000"}, {"offset": 0.81, "color": "#fff"}, {"offset": 0.822, "color": "#fff"},
            {"offset": 0.832, "color": "#000"}, {"offset": 0.842, "color": "#fff"}, {"offset": 0.854, "color": "#fff"},
            {"offset": 0.864, "color": "#000"}, {"offset": 0.874, "color": "#fff"}, {"offset": 0.886, "color": "#fff"},
            {"offset": 0.896, "color": "#000"}, {"offset": 0.906, "color": "#fff"}, {"offset": 0.918, "color": "#fff"},
            {"offset": 0.928, "color": "#000"}, {"offset": 0.938, "color": "#fff"}, {"offset": 0.95, "color": "#fff"},
            {"offset": 0.96, "color": "#000"}, {"offset": 0.97, "color": "#fff"}, {"offset": 0.982, "color": "#fff"},
            {"offset": 0.992, "color": "#000"}, {"offset": 1, "color": "#000"}
          ]}},
          "encoding": {"x": {"field": "tissue", "type": "nominal"}, "xOffset": {"field": "grp", "type": "nominal"}, "y": {"datum": 3.3, "type": "quantitative"}, "y2": {"datum": 0}}
        },
        {
          "data": {"name": "e_bars"},
          "transform": [{"filter": "datum.grp === 'AAV8mIP-IL2 1 x 10¹⁰ VP'"}],
          "mark": {"type": "bar", "fill": "#fff", "stroke": "#fff", "strokeWidth": 1},
          "encoding": {"x": {"field": "tissue", "type": "nominal"}, "xOffset": {"field": "grp", "type": "nominal"}, "y": {"field": "mean", "type": "quantitative"}, "y2": {"datum": 3.4}}
        },
        {
          "data": {"name": "e_bars"},
          "transform": [{"filter": "datum.grp === 'AAV8mIP-IL2 1 x 10¹⁰ VP'"}],
          "mark": {"type": "bar", "fill": "transparent", "stroke": "#000", "strokeWidth": 1.8},
          "encoding": {"x": {"field": "tissue", "type": "nominal"}, "xOffset": {"field": "grp", "type": "nominal"}, "y": {"field": "mean", "type": "quantitative"}}
        },
        {
          "data": {"name": "e_bars"},
          "mark": {"type": "rule", "color": "#000", "strokeWidth": 1.5},
          "encoding": {"x": {"field": "tissue", "type": "nominal"}, "xOffset": {"field": "grp", "type": "nominal"}, "y": {"field": "mean", "type": "quantitative"}, "y2": {"field": "upper"}}
        },
        {
          "data": {"name": "e_bars"},
          "mark": {"type": "tick", "orient": "horizontal", "size": 15, "thickness": 1.5, "color": "#000", "opacity": 1},
          "encoding": {"x": {"field": "tissue", "type": "nominal"}, "xOffset": {"field": "grp", "type": "nominal"}, "y": {"field": "upper", "type": "quantitative"}}
        },
        {
          "data": {"values": [{"tissue": "Islets", "grp": "AAV8mIP-IL2 2.5 x 10¹⁰ VP", "mean": 4.26, "t": "*"}, {"tissue": "Islets", "grp": "AAV8mIP-IL2 1 x 10¹⁰ VP", "mean": 3.86, "t": "**"}]},
          "mark": {"type": "text", "font": "DejaVu Sans", "fontSize": 24, "align": "center", "baseline": "alphabetic", "dy": 12.5, "color": "#000", "fill": "#000"},
          "encoding": {"x": {"field": "tissue", "type": "nominal"}, "xOffset": {"field": "grp", "type": "nominal"}, "y": {"field": "mean", "type": "quantitative"}, "text": {"field": "t"}}
        },
        {
          "data": {"values": [{"tissue": "Islets", "mean": 9.81}]},
          "mark": {"type": "tick", "orient": "horizontal", "size": 87, "thickness": 1.5, "xOffset": -1, "color": "#333", "opacity": 1},
          "encoding": {"x": {"field": "tissue", "type": "nominal"}, "y": {"field": "mean", "type": "quantitative"}}
        },
        {
          "data": {"values": [{"tissue": "Islets", "grp": "AAV8mIP-IL2 2.5 x 10¹⁰ VP", "mean": 9.81, "mean2": 4.61}, {"tissue": "Islets", "grp": "AAV8mIP-IL2 1 x 10¹⁰ VP", "mean": 9.81, "mean2": 4.61}]},
          "mark": {"type": "rule", "strokeWidth": 1.5, "color": "#333"},
          "encoding": {"x": {"field": "tissue", "type": "nominal"}, "xOffset": {"field": "grp", "type": "nominal"}, "y": {"field": "mean", "type": "quantitative"}, "y2": {"field": "mean2"}}
        }
      ]
    }
  ],
  "spacing": 23
}
